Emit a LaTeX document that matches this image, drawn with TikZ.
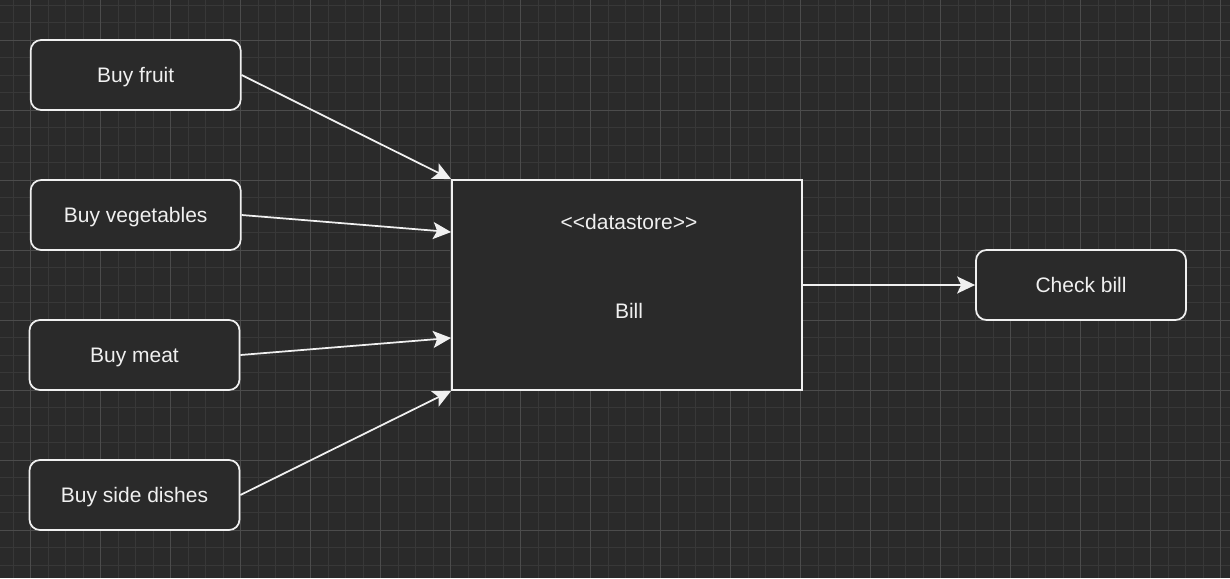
\documentclass[tikz,border=0pt]{standalone}
\usepackage{fontspec}
\setmainfont{Liberation Sans}
\usetikzlibrary{arrows.meta,calc}
\definecolor{bgc}{HTML}{2A2A2A}
\definecolor{minorc}{HTML}{383838}
\definecolor{majorc}{HTML}{4C4C4C}
\definecolor{fg}{HTML}{F0F0F0}
\tikzset{
  minorline/.style={draw=minorc,line width=1pt},
  majorline/.style={draw=majorc,line width=1pt},
  task/.style={draw=fg,fill=bgc,line width=1.75pt,rounded corners=10.5pt,minimum width=210pt,minimum height=70pt,inner sep=0pt,text=fg,text height=15pt,text depth=1pt,font=\fontsize{21}{25}\selectfont},
  store/.style={draw=fg,fill=bgc,line width=1.75pt,minimum width=350pt,minimum height=210pt,inner sep=0pt},
  txt/.style={text=fg,inner sep=0pt,text height=15pt,text depth=1pt,font=\fontsize{21}{25}\selectfont},
  conn/.style={draw=fg,line width=1.75pt,-{Stealth[length=18pt,width=17pt,inset=4pt]}}
}
\begin{document}
\begin{tikzpicture}[x=1pt,y=-1pt]
\fill[bgc] (0,0) rectangle (1230,578);
\useasboundingbox (0,0) rectangle (1230,578);
\begin{scope}
\clip (0,0) rectangle (1230,578);
\foreach \i in {-1,...,69} \draw[minorline] ({30.7+17.5*\i},0) -- ({30.7+17.5*\i},578);
\foreach \j in {-2,...,31} \draw[minorline] (0,{40.3+17.5*\j}) -- (1230,{40.3+17.5*\j});
\foreach \i in {0,...,17} \draw[majorline] ({30.7+70*\i},0) -- ({30.7+70*\i},578);
\foreach \j in {0,...,7} \draw[majorline] (0,{40.3+70*\j}) -- (1230,{40.3+70*\j});
\end{scope}
\node[task] (fruit) at (135.7,75) {Buy fruit};
\node[task] (veg) at (135.7,215) {Buy vegetables};
\node[task] (meat) at (134.5,355) {Buy meat};
\node[task] (side) at (134.5,495) {Buy side dishes};
\node[store] (bill) at (627,285) {};
\node[txt] (stereo) at ($(bill.north)+(2,43)$) {<\kern0pt<datastore>\kern0pt>};
\node[txt] (billtxt) at ($(bill.center)+(2,26)$) {Bill};
\node[task] (check) at (1081,285) {Check bill};
\coordinate (bq1) at ($(bill.north west)!0.25!(bill.south west)$);
\coordinate (bq3) at ($(bill.north west)!0.75!(bill.south west)$);
\draw[conn] (fruit.east) -- (bill.north west);
\draw[conn] (veg.east) -- (bq1);
\draw[conn] (meat.east) -- (bq3);
\draw[conn] (side.east) -- (bill.south west);
\draw[conn] (bill.east) -- (check.west);
\end{tikzpicture}
\end{document}
